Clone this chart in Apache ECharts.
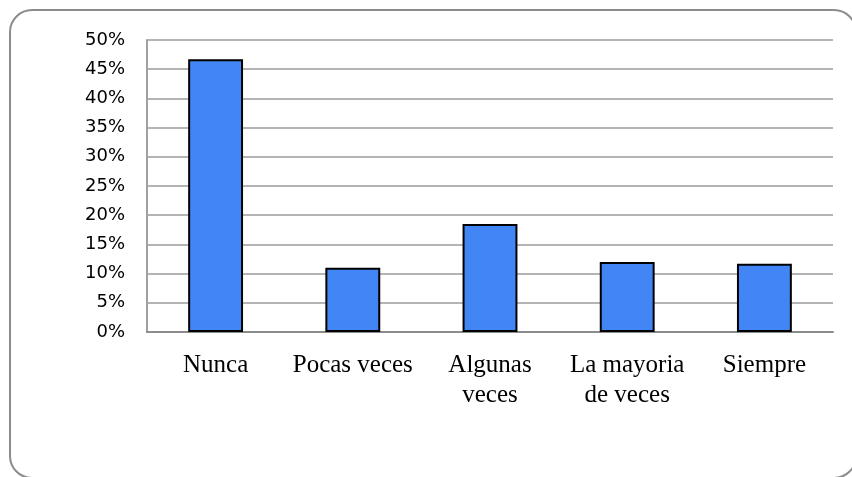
<!DOCTYPE html>
<html>
<head>
<meta charset="utf-8">
<script src="https://cdn.jsdelivr.net/npm/echarts@6/dist/echarts.min.js"></script>
<style>
  html, body { margin: 0; padding: 0; background: #fff; }
  #chart { width: 852px; height: 477px; }
</style>
</head>
<body>
<div id="chart"></div>
<script>
// datos
var categorias = ['Nunca', 'Pocas veces', 'Algunas\nveces', 'La mayoria\nde veces', 'Siempre']
var porcentajes = [46.7, 11.0, 18.5, 12.0, 11.7]

var myChart = echarts.init(document.getElementById('chart'))
var option = {
  animation: false,
  backgroundColor: '#ffffff',
  graphic: [
    {
      type: 'rect',
      shape: { x: 10, y: 10, width: 846, height: 468, r: 22 },
      style: { fill: 'none', stroke: '#8c8c8c', lineWidth: 2 },
      silent: true
    }
  ],
  grid: {
    left: 147,
    right: 19,
    top: 40,
    bottom: 145
  },
  xAxis: {
    type: 'category',
    data: categorias,
    axisTick: { show: false },
    axisLine: { lineStyle: { color: '#8c8c8c', width: 2 } },
    axisLabel: {
      fontFamily: 'Liberation Serif',
      fontSize: 25,
      color: '#000',
      lineHeight: 30,
      margin: 18,
      interval: 0
    }
  },
  yAxis: {
    type: 'value',
    min: 0,
    max: 50,
    interval: 5,
    axisLine: { show: true, lineStyle: { color: '#a0a0a0', width: 2 } },
    axisTick: { show: false },
    splitLine: { lineStyle: { color: '#b4b4b4', width: 2 } },
    axisLabel: {
      formatter: '{value}%',
      fontFamily: 'DejaVu Sans',
      fontSize: 18,
      color: '#000',
      margin: 22
    }
  },
  series: [
    {
      type: 'bar',
      data: porcentajes,
      barWidth: '40%',
      itemStyle: {
        color: '#4285f4',
        borderColor: '#000',
        borderWidth: 2
      }
    }
  ]
}
myChart.setOption(option)
</script>
</body>
</html>
